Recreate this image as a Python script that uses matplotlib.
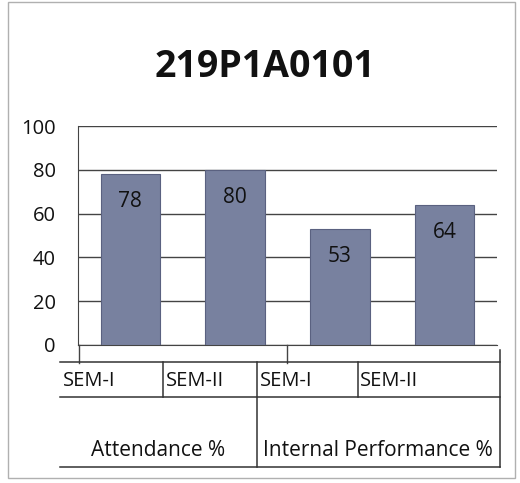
import matplotlib.pyplot as plt
from matplotlib.patches import Rectangle
from matplotlib.lines import Line2D

title = "219P1A0101"
sem_labels = ["SEM-I", "SEM-II", "SEM-I", "SEM-II"]
group_labels = ["Attendance %", "Internal Performance %"]
values = [78, 80, 53, 64]
yticks = [0, 20, 40, 60, 80, 100]

W, H = 520, 483
fig = plt.figure(figsize=(W / 100, H / 100), dpi=100)
plt.rcParams['font.family'] = ['Open Sans', 'DejaVu Sans']

def fx(px):
    return px / W

def fy(py):
    return 1 - py / H

# outer chart border
fig.add_artist(Rectangle((fx(8), fy(478)), fx(515) - fx(8), fy(2) - fy(478),
                         transform=fig.transFigure, fill=False,
                         edgecolor='#b0b0b0', linewidth=1.0))

ax = fig.add_axes([fx(78), fy(345), fx(497) - fx(78), fy(126) - fy(345)])
x = list(range(len(values)))
bars = ax.bar(x, values, width=0.57, color='#78819f', edgecolor='#5a6180',
              linewidth=0.8, zorder=3)
for xi, v in zip(x, values):
    ax.text(xi, v - 12.5, str(v), ha='center', va='center', fontsize=15,
            color='#111111', zorder=4)

ax.set_xlim(-0.5, len(values) - 0.5)
ax.set_ylim(0, 100)
ax.set_yticks(yticks)
ax.set_yticklabels([str(t) for t in yticks], fontsize=14.5, color='#111111')
ax.tick_params(axis='y', length=0, pad=16)
ax.tick_params(axis='x', length=0, labelbottom=False)
ax.grid(axis='y', color='#444444', linewidth=1.0, zorder=0)
for s in ['top', 'right']:
    ax.spines[s].set_visible(False)
ax.spines['left'].set_color('#444444')
ax.spines['bottom'].set_color('#444444')

# vertical tick marks below axis at group boundaries
for px in [79, 287]:
    fig.add_artist(Line2D([fx(px), fx(px)], [fy(345), fy(363)],
                          transform=fig.transFigure, color='#444444', lw=1.0))

# category table
lc = '#333333'
def hline(x0, x1, y):
    fig.add_artist(Line2D([fx(x0), fx(x1)], [fy(y), fy(y)],
                          transform=fig.transFigure, color=lc, lw=1.1))

def vline(x0, y0, y1):
    fig.add_artist(Line2D([fx(x0), fx(x0)], [fy(y0), fy(y1)],
                          transform=fig.transFigure, color=lc, lw=1.1))

hline(60, 500, 362)
hline(60, 500, 397)
hline(60, 500, 467)
vline(500, 350, 467)
for px in [163, 358]:
    vline(px, 362, 397)
vline(257, 362, 467)

sem_x = [63, 166, 260, 360]
for px, lab in zip(sem_x, sem_labels):
    fig.text(fx(px), fy(381), lab, ha='left', va='center', fontsize=14.5,
             color='#111111')
group_x = [158, 378]
for px, lab in zip(group_x, group_labels):
    fig.text(fx(px), fy(451), lab, ha='center', va='center', fontsize=15,
             color='#111111')

fig.text(fx(265), fy(67), title, ha='center', va='center', fontsize=27,
         fontweight='bold', color='#111111')

fig.savefig('out.png', dpi=100)
